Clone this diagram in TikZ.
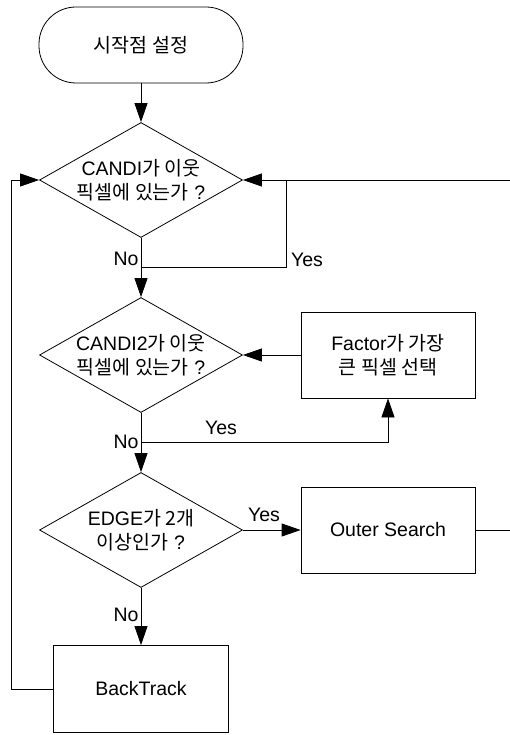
\documentclass[tikz,border=0pt]{standalone}
\usepackage{fontspec}
\setmainfont{Liberation Sans}
\newfontfamily\ko{Noto Sans CJK KR}
\usetikzlibrary{shapes.geometric,arrows.meta}

\begin{document}
\begin{tikzpicture}[x=1pt,y=-1pt,line width=0.8pt,
    flow/.style={-{Triangle[length=19pt,width=13pt]}}]
\tikzset{every node/.style={font=\fontsize{19.5}{24}\selectfont,align=center}}
\tikzset{decision/.style={draw,shape=diamond,aspect=1.765,inner sep=-6pt,
                          minimum width=203pt,minimum height=115pt}}
\tikzset{process/.style={draw,shape=rectangle,minimum width=174pt,minimum height=86pt}}
%\tikzset{every node/.style={draw,
%                            font=\sffamily,
%                           }}
\useasboundingbox (0,0) rectangle (510,735);
\node[draw,rounded corners=37pt,minimum width=204pt,minimum height=76pt] (start) at (141,45) {{\ko 시작점 설정}};
\node[decision] (q1) at (141,180) {CANDI{\ko 가 이웃}\\{\ko 픽셀에 있는가} ?};
\node[decision] (q2) at (141,355) {CANDI2{\ko 가 이웃}\\{\ko 픽셀에 있는가} ?};
\node[decision] (q3) at (141,530) {EDGE{\ko 가 2개}\\{\ko 이상인가} ?};
\node[process] (factor) at (388,355) {Factor{\ko 가 가장}\\{\ko 큰 픽셀 선택}};
\node[process] (outer) at (388,530) {Outer Search};
\node[process,minimum width=175pt,minimum height=87pt] (back) at (141,689) {BackTrack};
\coordinate (n1) at (141,267);
\coordinate (y1) at (286,180);
\coordinate (n2) at (141,442);
\coordinate (l1) at (11,180);
\coordinate (e1) at (510,180);
\coordinate (e2) at (510,530);

\draw[flow] (start) -- (q1);
\draw[flow] (q1.south) -- (q2.north);
\draw (n1) -| (y1);
\draw[flow] (e1) -- (q1.east);
\draw[flow] (factor.west) -- (q2.east);
\draw[flow] (q2.south) -- (q3.north);
\draw[flow] (n2) -| (factor.south);
\draw[flow] (q3.east) -- (outer.west);
\draw (outer.east) -- (e2);
\draw[flow] (q3.south) -- (back.north);
\draw[flow] (back.west) -| (l1) -- (q1.west);

\node (no1) at (126,259) {No};
\node (yes1) at (307,260) {Yes};
\node (yes2) at (221,428) {Yes};
\node (no2) at (126,442) {No};
\node (yes3) at (264,515) {Yes};
\node (no3) at (126,615) {No};
\end{tikzpicture}
\end{document}
